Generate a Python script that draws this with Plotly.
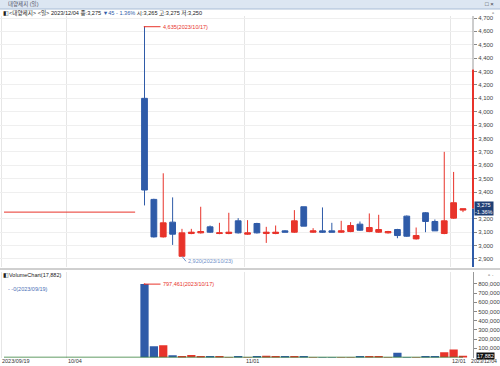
import plotly.graph_objects as go

W, H = 500, 366

# ---------------- data ----------------
DATES = ["2023/09/19", "2023/09/20", "2023/09/21", "2023/09/22", "2023/09/25", "2023/09/26",
         "2023/09/27", "2023/10/04", "2023/10/05", "2023/10/06", "2023/10/10", "2023/10/11",
         "2023/10/12", "2023/10/13", "2023/10/16", "2023/10/17", "2023/10/18", "2023/10/19",
         "2023/10/20", "2023/10/23", "2023/10/24", "2023/10/25", "2023/10/26", "2023/10/27",
         "2023/10/30", "2023/10/31", "2023/11/01", "2023/11/02", "2023/11/03", "2023/11/06",
         "2023/11/07", "2023/11/08", "2023/11/09", "2023/11/10", "2023/11/13", "2023/11/14",
         "2023/11/15", "2023/11/16", "2023/11/17", "2023/11/20", "2023/11/21", "2023/11/22",
         "2023/11/23", "2023/11/24", "2023/11/27", "2023/11/28", "2023/11/29", "2023/11/30",
         "2023/12/01", "2023/12/04"]

HALT_PRICE = [3250] * 15  # trading halt days (no volume)

OPEN = [4100, 3345, 3065, 3175, 2920, 3090, 3095, 3140, 3090, 3090, 3185, 3085, 3165, 3090,
        3090, 3110, 3100, 3290, 3100, 3110, 3110, 3100, 3105, 3160, 3105, 3100, 3095, 3120,
        3220, 3050, 3245, 3180, 3090, 3205, 3265]
HIGH = [4635, 3350, 3540, 3360, 3125, 3125, 3290, 3150, 3170, 3245, 3205, 3190, 3170, 3140,
        3150, 3115, 3265, 3290, 3130, 3285, 3170, 3185, 3175, 3180, 3240, 3230, 3110, 3125,
        3225, 3135, 3250, 3195, 3700, 3550, 3275]
LOW = [3300, 3060, 3060, 3005, 2920, 3085, 3090, 3095, 3085, 3085, 3090, 3080, 3090, 3020,
       3085, 3100, 3095, 3145, 3095, 3095, 3100, 3095, 3100, 3110, 3100, 3095, 3090, 3055,
       3065, 3045, 3100, 3110, 3085, 3200, 3250]
CLOSE = [3415, 3065, 3170, 3085, 3095, 3100, 3105, 3100, 3095, 3100, 3095, 3095, 3095, 3100,
         3100, 3100, 3185, 3145, 3110, 3100, 3100, 3110, 3150, 3115, 3135, 3120, 3105, 3075,
         3070, 3075, 3180, 3110, 3185, 3320, 3275]
VOLUME = [0] * 15 + [797461, 123000, 134000, 25000, 15000, 27000, 10000, 12000, 6000, 4000,
                     10000, 3000, 8000, 18000, 10000, 6000, 13000, 8000, 4000, 4000, 2000,
                     2000, 3000, 7000, 10000, 9000, 4000, 52000, 3000, 5000, 13000, 13000,
                     57000, 88000, 17882]

UPPER_LIMIT = 4315
PRICE_TICKS = list(range(2900, 4701, 100))
VOL_TICKS = list(range(100000, 800001, 100000))
DATE_LABEL_IDX = [0, 7, 26, 48]
DATE_LABELS = ["2023/09/19", "10/04", "11/01", "12/01"]

RED = "#e8332a"
BLUE = "#2f5ba8"
FONT = "Liberation Sans, Arial, 'Noto Sans CJK KR', sans-serif"

# ---------------- derived ----------------
n = len(DATES)
idx_all = list(range(n))
n_halt = len(HALT_PRICE)
idx_trade = list(range(n_halt, n))
vol_colors = []
for i in range(n):
    if i < n_halt:
        vol_colors.append("#2e7d32")
    else:
        k = i - n_halt
        vol_colors.append(RED if CLOSE[k] >= OPEN[k] else BLUE)

def py(p):
    return 1 - p / H

def pxx(p):
    return p / W

AX_RIGHT = 473
X0 = -0.427
X1 = X0 + AX_RIGHT / 9.367

P_LO, P_HI = 2840, 4715
V_LO, V_HI = 0, 929000

last_close = CLOSE[-1]
# the current-price box hides the tick labels right behind it
price_ticks_shown = [t for t in PRICE_TICKS if abs(t - last_close) > 50]

fig = go.Figure()

fig.add_trace(go.Scatter(x=list(range(n_halt)), y=HALT_PRICE, mode="lines",
                         line=dict(color=RED, width=1), xaxis="x", yaxis="y",
                         hoverinfo="skip", showlegend=False))
fig.add_trace(go.Candlestick(
    x=idx_trade, open=OPEN, high=HIGH, low=LOW, close=CLOSE,
    increasing=dict(line=dict(color=RED, width=1), fillcolor=RED),
    decreasing=dict(line=dict(color=BLUE, width=1), fillcolor=BLUE),
    whiskerwidth=0, xaxis="x", yaxis="y", hoverinfo="skip", showlegend=False))

fig.add_trace(go.Scatter(x=idx_all, y=[0] * n, mode="lines",
                         line=dict(color="#2e7d32", width=1.5), xaxis="x2", yaxis="y2",
                         hoverinfo="skip", showlegend=False))
fig.add_trace(go.Bar(x=idx_all, y=VOLUME, marker=dict(color=vol_colors, line=dict(width=0)),
                     xaxis="x2", yaxis="y2", hoverinfo="skip", showlegend=False))

grid_x = [i - 0.3 for i in DATE_LABEL_IDX]
common_x = dict(range=[X0, X1], domain=[0, AX_RIGHT / W], showticklabels=False,
                tickvals=grid_x, showgrid=True, gridcolor="#e6e6e6", gridwidth=1,
                zeroline=False, showline=False, ticks="", fixedrange=True)

fig.update_layout(
    width=W, height=H, margin=dict(l=0, r=0, t=0, b=0),
    paper_bgcolor="white", plot_bgcolor="white",
    font=dict(family=FONT, size=6, color="#333"),
    showlegend=False, boxgap=0.12, bargap=0.12,
    xaxis=dict(anchor="y", rangeslider=dict(visible=False), **common_x),
    xaxis2=dict(anchor="y2", **common_x),
    yaxis=dict(domain=[py(267), py(16)], range=[P_LO, P_HI], side="right", anchor="x",
               tickvals=price_ticks_shown, tickformat=",d", ticks="outside", ticklen=3,
               tickcolor="#888", showgrid=True, gridcolor="#efefef", zeroline=False,
               showline=False, tickfont=dict(size=6, color="#444")),
    yaxis2=dict(domain=[py(357.5), py(272)], range=[V_LO, V_HI], side="right", anchor="x2",
                tickvals=VOL_TICKS, tickformat=",d", ticks="outside", ticklen=3,
                tickcolor="#888", showgrid=False, zeroline=False,
                showline=True, linecolor="#999", linewidth=1,
                tickfont=dict(size=6, color="#444")),
)

shapes = []
# title bar
shapes.append(dict(type="rect", xref="paper", yref="paper", x0=0, x1=1, y0=py(9), y1=1,
                   fillcolor="#dce6f2", line=dict(width=0), layer="below"))
shapes.append(dict(type="line", xref="paper", yref="paper", x0=0, x1=1, y0=py(9), y1=py(9),
                   line=dict(color="#a9bdd6", width=1)))
# panel separator
shapes.append(dict(type="line", xref="paper", yref="paper", x0=0, x1=1, y0=py(269), y1=py(269),
                   line=dict(color="#a0a0a0", width=1)))
# price axis line: gray / red / blue
shapes.append(dict(type="line", xref="paper", yref="y", x0=pxx(AX_RIGHT), x1=pxx(AX_RIGHT),
                   y0=UPPER_LIMIT, y1=P_HI, line=dict(color="#9a9a9a", width=1)))
shapes.append(dict(type="line", xref="paper", yref="y", x0=pxx(AX_RIGHT), x1=pxx(AX_RIGHT),
                   y0=last_close, y1=UPPER_LIMIT, line=dict(color=RED, width=2)))
shapes.append(dict(type="line", xref="paper", yref="y", x0=pxx(AX_RIGHT), x1=pxx(AX_RIGHT),
                   y0=P_LO, y1=last_close, line=dict(color=BLUE, width=2)))
fig.update_layout(shapes=shapes)

# ---------------- annotations ----------------
ann = []
prev_close = CLOSE[-2]
chg = last_close - prev_close
pct = chg / prev_close * 100
arrow = "▼" if chg < 0 else "▲"
chg_col = BLUE if chg < 0 else RED
date_last = DATES[-1]

ann.append(dict(xref="paper", yref="paper", x=pxx(6), y=py(4.5), xanchor="left",
                yanchor="middle", showarrow=False, text="대양제지 (일)",
                font=dict(size=5.5, color="#556")))
ann.append(dict(xref="paper", yref="paper", x=pxx(496), y=py(4.5), xanchor="right",
                yanchor="middle", showarrow=False, text="□ ×",
                font=dict(size=6, color="#333")))
header = (f"◧&lt;대양제지&gt; &lt;일&gt; {date_last} 종:{last_close:,} "
          f"<span style='color:{chg_col}'>{arrow}{abs(chg)} - {abs(pct):.2f}%</span> "
          f"시:{OPEN[-1]:,} 고:{HIGH[-1]:,} 저:{LOW[-1]:,}")
ann.append(dict(xref="paper", yref="paper", x=pxx(1), y=py(13), xanchor="left",
                yanchor="middle", showarrow=False, text=header,
                font=dict(size=5.6, color="#222")))
ann.append(dict(xref="paper", yref="paper", x=pxx(496), y=py(13), xanchor="right",
                yanchor="middle", showarrow=False, text="▫",
                font=dict(size=6, color="#555")))

# highest high
hi_k = max(range(len(HIGH)), key=lambda k: HIGH[k])
ann.append(dict(xref="x", yref="y", x=idx_trade[hi_k], y=HIGH[hi_k], ax=16, ay=0,
                xanchor="left", yanchor="middle", showarrow=True, arrowhead=6,
                arrowsize=0.4, arrowwidth=1, arrowcolor=RED,
                text=f"{HIGH[hi_k]:,}({DATES[idx_trade[hi_k]]})",
                font=dict(size=5.5, color=RED)))
# lowest low
lo_k = min(range(len(LOW)), key=lambda k: LOW[k])
ann.append(dict(xref="x", yref="y", x=idx_trade[lo_k], y=LOW[lo_k], ax=4, ay=5,
                xanchor="left", yanchor="middle", showarrow=True, arrowhead=0,
                arrowwidth=1, arrowcolor="#6f8fc8",
                text=f"{LOW[lo_k]:,}({DATES[idx_trade[lo_k]]})",
                font=dict(size=5.5, color="#6f8fc8")))
# current price box
ann.append(dict(xref="paper", yref="y", x=pxx(AX_RIGHT + 1), y=last_close, xanchor="left",
                yanchor="middle", showarrow=False,
                text=f"{last_close:,}<br>{pct:.2f}%", bgcolor="#1f3f75",
                font=dict(size=5.5, color="white"), borderpad=0, align="center"))

# volume panel
ann.append(dict(xref="paper", yref="paper", x=pxx(1), y=py(275), xanchor="left",
                yanchor="middle", showarrow=False, text=f"◧VolumeChart({VOLUME[-1]:,})",
                font=dict(size=5.5, color="#222")))
ann.append(dict(xref="paper", yref="paper", x=pxx(496), y=py(275), xanchor="right",
                yanchor="middle", showarrow=False, text="▫ ·",
                font=dict(size=6, color="#555")))
vmax_i = max(range(n), key=lambda i: VOLUME[i])
ann.append(dict(xref="x2", yref="y2", x=vmax_i, y=VOLUME[vmax_i], ax=16, ay=0,
                xanchor="left", yanchor="middle", showarrow=True, arrowhead=6,
                arrowsize=0.4, arrowwidth=1, arrowcolor=RED,
                text=f"{VOLUME[vmax_i]:,}({DATES[vmax_i]})",
                font=dict(size=5.5, color=RED)))
vmin_i = min(range(n), key=lambda i: VOLUME[i])
ann.append(dict(xref="paper", yref="paper", x=pxx(6), y=py(289), xanchor="left",
                yanchor="middle", showarrow=False,
                text=f"- -{VOLUME[vmin_i]:,}({DATES[vmin_i]})",
                font=dict(size=5.5, color="#4a6fb5")))
ann.append(dict(xref="paper", yref="y2", x=pxx(AX_RIGHT + 3), y=VOLUME[-1], xanchor="left",
                yanchor="middle", showarrow=False, text=f"{VOLUME[-1]:,}",
                bgcolor="#111", font=dict(size=5.5, color="white"), borderpad=0))

# date labels
for i, lab in zip(DATE_LABEL_IDX, DATE_LABELS):
    ann.append(dict(xref="x2", yref="paper", x=max(i - 0.4, X0), y=py(361), xanchor="left",
                    yanchor="middle", showarrow=False, text=lab,
                    font=dict(size=5.5, color="#333")))
ann.append(dict(xref="paper", yref="paper", x=pxx(499), y=py(361), xanchor="right",
                yanchor="middle", showarrow=False, text=date_last,
                font=dict(size=5.2, color="#333")))

fig.update_layout(annotations=ann)
fig.write_html("out.html")
